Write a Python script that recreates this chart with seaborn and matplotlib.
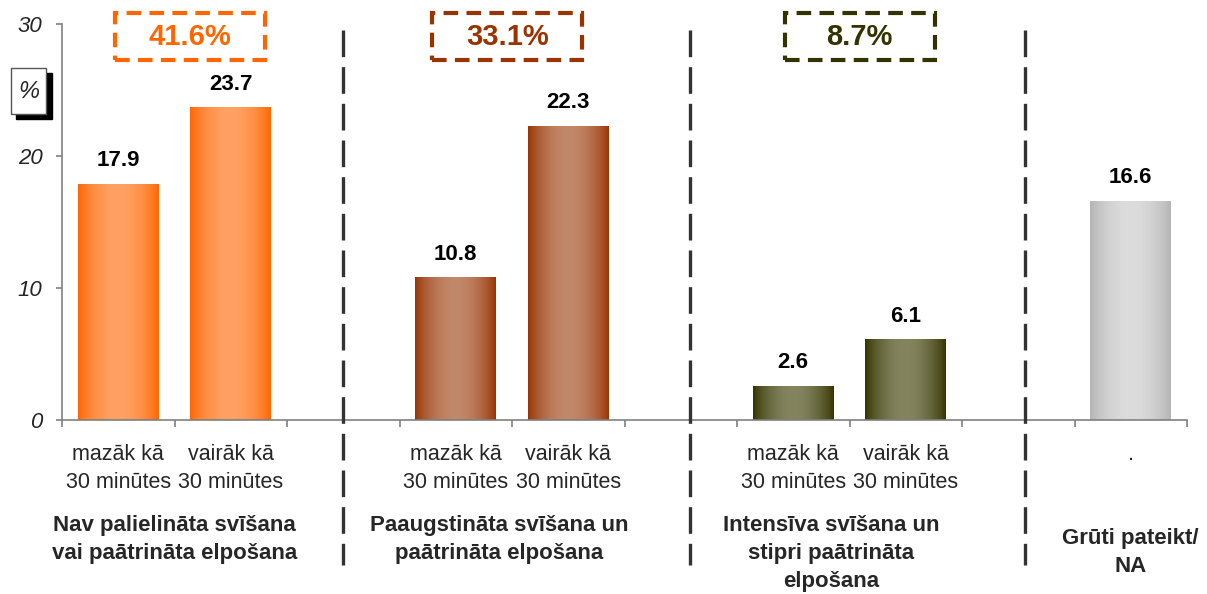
import numpy as np
import pandas as pd
import seaborn as sns
import matplotlib.pyplot as plt
from matplotlib.patches import Rectangle
from matplotlib.colors import to_rgb

# --- data ---
slot_ids = ["nav_maz", "nav_vair", "gap1", "paaug_maz", "paaug_vair", "gap2",
            "int_maz", "int_vair", "gap3", "na"]
tick_labels = ["mazāk kā\n30 minūtes", "vairāk kā\n30 minūtes", "",
               "mazāk kā\n30 minūtes", "vairāk kā\n30 minūtes", "",
               "mazāk kā\n30 minūtes", "vairāk kā\n30 minūtes", "", "."]
bar_ids = ["nav_maz", "nav_vair", "paaug_maz", "paaug_vair", "int_maz", "int_vair", "na"]
values = [17.9, 23.7, 10.8, 22.3, 2.6, 6.1, 16.6]
edge_colors = ["#FF6600", "#FF6600", "#993300", "#993300", "#333300", "#333300", "#B4B4B4"]
center_colors = ["#FFA263", "#FFA263", "#C2886A", "#C2886A", "#84845F", "#84845F", "#DCDCDC"]

group_totals = ["41.6%", "33.1%", "8.7%"]
total_colors = ["#FF6600", "#993300", "#333300"]
total_x = [0.64, 3.46, 6.59]
group_names = ["Nav palielināta svīšana\nvai paātrināta elpošana",
               "Paaugstināta svīšana un\npaātrināta elpošana",
               "Intensīva svīšana un\nstipri paātrināta\nelpošana",
               "Grūti pateikt/\nNA"]
group_x = [0.5, 3.39, 6.34, 9.0]
group_y_px = [527, 527, 527, 540]
separators = [2.0, 5.08, 8.06]

df = pd.DataFrame({"slot": bar_ids, "value": values})

sns.set_style("white")
plt.rcParams["font.family"] = ["Liberation Sans", "DejaVu Sans"]

W, H = 1207, 594
fig = plt.figure(figsize=(W / 100, H / 100), dpi=100)
ax = fig.add_axes([62 / W, 1 - 420 / H, 1125 / W, 396 / H])

sns.barplot(data=df, x="slot", y="value", hue="slot", order=slot_ids,
            hue_order=bar_ids, palette=dict(zip(bar_ids, edge_colors)),
            width=0.72, legend=False, ax=ax, saturation=1)

ax.set_xlim(-0.5, 9.5)
ax.set_ylim(0, 30)

# horizontal gradient fill on each bar + value labels
t = np.linspace(0, 1, 256)
w = np.sin(np.pi * t) ** 0.8
for p in list(ax.patches):
    h = p.get_height()
    if not np.isfinite(h) or h == 0:
        continue
    x0 = p.get_x()
    idx = int(round(x0 + p.get_width() / 2))
    k = bar_ids.index(slot_ids[idx])
    e = np.array(to_rgb(edge_colors[k]))
    c = np.array(to_rgb(center_colors[k]))
    img = (e[None, :] + (c - e)[None, :] * w[:, None])[None, :, :]
    im = ax.imshow(img, extent=[x0, x0 + p.get_width(), 0, h], aspect="auto",
                   zorder=p.get_zorder() + 0.1, interpolation="bilinear")
    im.set_clip_path(p)
    ax.annotate(f"{values[k]:.1f}", (x0 + p.get_width() / 2, h), xytext=(0, 9),
                textcoords="offset points", ha="center", va="bottom",
                fontsize=16, fontweight="bold", color="black")

ax.set_xlim(-0.5, 9.5)
ax.set_ylim(0, 30)

# axes styling
sns.despine(ax=ax)
for s in ["left", "bottom"]:
    ax.spines[s].set_color("#808080")
    ax.spines[s].set_linewidth(1.2)
ax.set_xlabel("")
ax.set_ylabel("")
ax.set_yticks([0, 10, 20, 30])
ax.set_yticklabels(["0", "10", "20", "30"], fontsize=16, fontstyle="italic")
ax.tick_params(axis="y", length=4, width=1.2, color="#808080", pad=10, left=True)
ax.set_xticks(range(len(slot_ids)))
ax.set_xticklabels(tick_labels, fontsize=15.5, linespacing=1.45)
ax.tick_params(axis="x", which="major", length=0, pad=17)
ax.set_xticks(np.arange(-0.5, 10, 1), minor=True)
ax.tick_params(axis="x", which="minor", length=5, width=1.2, color="#808080", bottom=True)

# dashed separators
for xs in separators:
    ax.plot([xs, xs], [29.55, -11.0], color="#333333", lw=2.4,
            linestyle=(0, (8, 3)), clip_on=False, zorder=5)

# dashed total boxes
for tx, txt, col in zip(total_x, group_totals, total_colors):
    ax.add_patch(Rectangle((tx - 0.667, 27.27), 1.333, 3.56, fill=False,
                           edgecolor=col, lw=3, linestyle=(0, (3.5, 2)),
                           clip_on=False, zorder=6))
    ax.text(tx, 29.05, txt, ha="center", va="center", fontsize=21,
            fontweight="bold", color=col, clip_on=False)

# group labels
for gx, gy, name in zip(group_x, group_y_px, group_names):
    xf = ax.transData.transform((gx, 0))[0] / W
    fig.text(xf, 1 - (gy - 12) / H, name, ha="center", va="top", fontsize=16,
             fontweight="bold", linespacing=1.45)

# "%" unit box with shadow
fig.add_artist(Rectangle((16 / W, 1 - 119 / H), 36 / W, 46 / H,
                         transform=fig.transFigure, color="black", zorder=1))
fig.add_artist(Rectangle((11 / W, 1 - 114 / H), 35 / W, 46 / H,
                         transform=fig.transFigure, facecolor="white",
                         edgecolor="#555555", lw=1, zorder=2))
fig.text(28.5 / W, 1 - 91 / H, "%", ha="center", va="center", fontsize=17,
         fontstyle="italic", zorder=3)

fig.savefig("out.png", dpi=100)
